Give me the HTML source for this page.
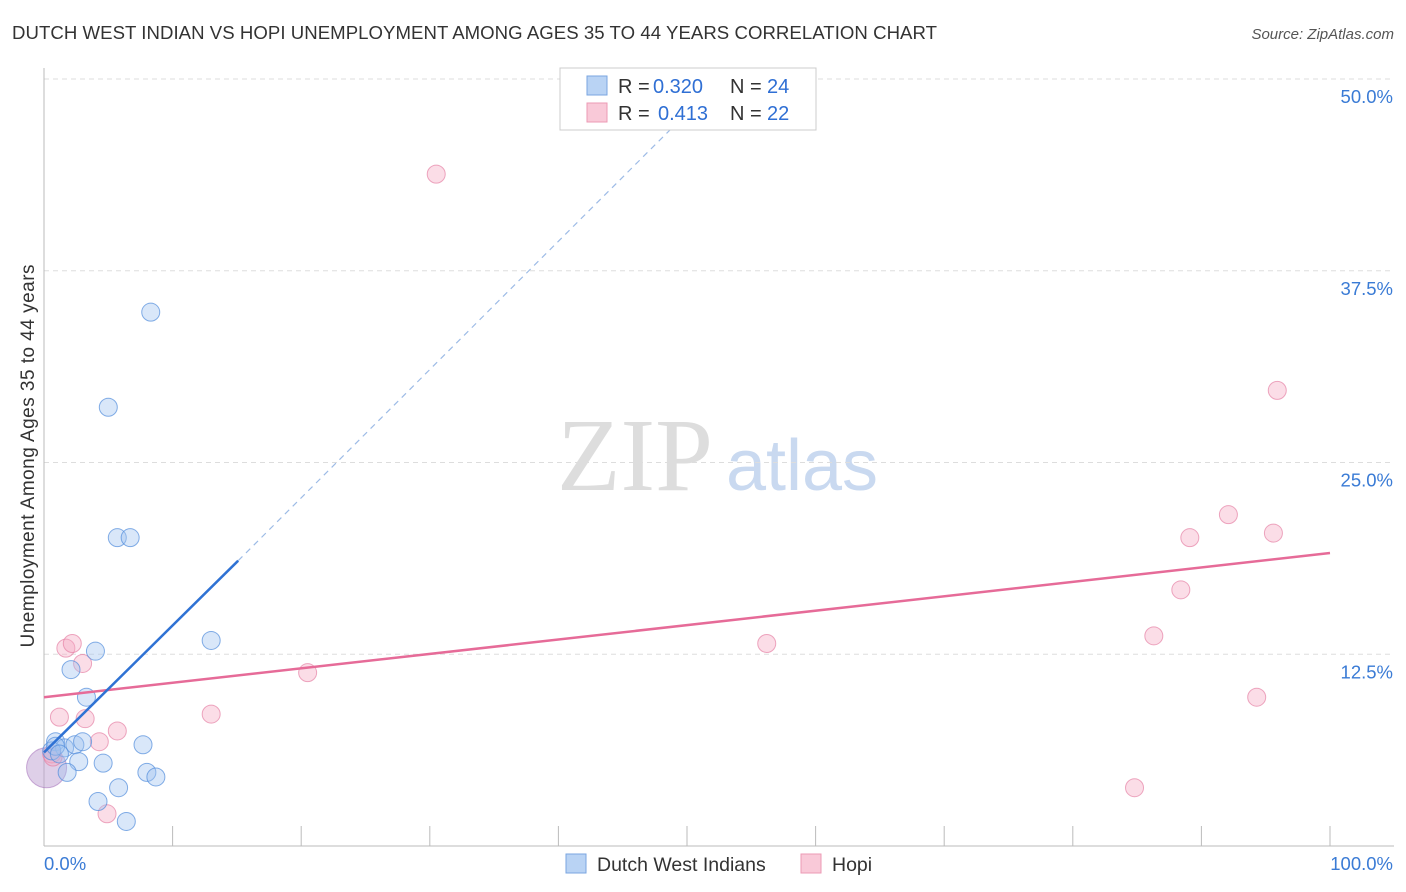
<!DOCTYPE html>
<html><head><meta charset="utf-8"><style>
body{margin:0;background:#fff;font-family:"Liberation Sans",sans-serif;}
svg{display:block}
</style></head><body>
<svg id="chart" width="1406" height="892">
<text x="12" y="39" font-size="18.6" fill="#333" textLength="925">DUTCH WEST INDIAN VS HOPI UNEMPLOYMENT AMONG AGES 35 TO 44 YEARS CORRELATION CHART</text>
<text x="1394" y="39" font-size="15" fill="#555" font-style="italic" text-anchor="end">Source: ZipAtlas.com</text>
<text x="0" y="0" transform="translate(34,456) rotate(-90)" font-size="19" fill="#333" text-anchor="middle" textLength="383">Unemployment Among Ages 35 to 44 years</text>
<g><text x="635" y="490" font-size="104" fill="#ddd" font-family="Liberation Serif,serif" text-anchor="middle">ZIP</text><text x="802" y="490" font-size="72" fill="#c9d9f0" text-anchor="middle">atlas</text></g>
<g id="grid"></g><g id="axes"></g><g id="marks"></g>
<g>
<rect x="560" y="68" width="256" height="62" fill="#fff" stroke="#ccc"/>
<rect x="587" y="76" width="20" height="19" fill="#b9d3f4" stroke="#7aa6e0"/>
<rect x="587" y="103" width="20" height="19" fill="#f9c9d8" stroke="#ec9ab4"/>
<g font-size="20" fill="#333">
<text x="618" y="93">R =</text><text x="653" y="93" fill="#2f6fd4">0.320</text><text x="730" y="93">N =</text><text x="767" y="93" fill="#2f6fd4">24</text>
<text x="618" y="120">R =</text><text x="658" y="120" fill="#2f6fd4">0.413</text><text x="730" y="120">N =</text><text x="767" y="120" fill="#2f6fd4">22</text>
</g>
</g>
<g>
<rect x="566" y="854" width="20" height="19" fill="#b9d3f4" stroke="#7aa6e0"/>
<text x="597" y="871" font-size="19.5" fill="#333">Dutch West Indians</text>
<rect x="801" y="854" width="20" height="19" fill="#f9c9d8" stroke="#ec9ab4"/>
<text x="832" y="871" font-size="19.5" fill="#333">Hopi</text>
</g>
</svg>
<script>
const yTicks=[12.5,25,37.5,50];
const yTickLabels=["12.5%","25.0%","37.5%","50.0%"];
const xTicks=[0,10,20,30,40,50,60,70,80,90,100];
const blueX=[8.3,5.0,5.7,6.7,4.0,13.0,2.1,3.3,0.9,1.6,2.4,3.0,2.7,1.8,4.6,7.7,8.0,8.7,5.8,4.2,6.4,0.6,0.9,1.2];
const blueY=[34.8,28.6,20.1,20.1,12.7,13.4,11.5,9.7,6.8,6.4,6.6,6.8,5.5,4.8,5.4,6.6,4.8,4.5,3.8,2.9,1.6,6.2,6.5,6.0];
const pinkX=[30.5,95.9,92.1,89.1,95.6,88.4,86.3,56.2,94.3,84.8,20.5,13.0,1.7,2.2,3.0,1.2,3.2,5.7,4.3,4.9,0.6,0.7];
const pinkY=[43.8,29.7,21.6,20.1,20.4,16.7,13.7,13.2,9.7,3.8,11.3,8.6,12.9,13.2,11.9,8.4,8.3,7.5,6.8,2.1,6.0,5.8];
const blueLine=[[0,6.1],[15.1,18.6]], blueDash=[[15.1,18.6],[49.3,47.2]];
const pinkLine=[[0,9.7],[100,19.1]];
const L=44,R=1330,T=79,B=846;
const sx=v=>L+(R-L)*v/100, sy=v=>B-(B-T)*v/50;
const NS="http://www.w3.org/2000/svg";
function mk(p,t,a){const e=document.createElementNS(NS,t);for(const k in a)e.setAttribute(k,a[k]);p.appendChild(e);return e;}
const grid=document.getElementById('grid'),axes=document.getElementById('axes'),marks=document.getElementById('marks');
yTicks.forEach((v,i)=>{const g=mk(grid,'line',{x1:L,x2:1394,y1:sy(v),y2:sy(v),stroke:'#ddd','stroke-dasharray':'5,4'});


const t=mk(axes,'text',{x:1393,y:sy(v)+24,'font-size':18.5,fill:'#3a7bd5','text-anchor':'end'});t.textContent=yTickLabels[i];

});
const ax=mk(axes,'line',{x1:L,x2:L,y1:68,y2:B,stroke:'#bbb'});


const bx=mk(axes,'line',{x1:L,x2:1394,y1:B,y2:B,stroke:'#bbb'});


xTicks.forEach(v=>{if(v===0)return;const t=mk(axes,'line',{x1:sx(v),x2:sx(v),y1:B-20,y2:B,stroke:'#bbb'});

});
[["0.0%",44,'start'],["100.0%",1393,'end']].forEach(a=>{const t=mk(axes,'text',{x:a[1],y:870,'font-size':18.5,fill:'#3a7bd5','text-anchor':a[2]});t.textContent=a[0];

});
const big=mk(marks,'circle',{cx:sx(0.2),cy:sy(5.1),r:20,fill:'rgba(190,160,210,0.5)',stroke:'rgba(170,120,190,0.6)'});


pinkX.forEach((x,i)=>{const c=mk(marks,'circle',{cx:sx(x),cy:sy(pinkY[i]),r:9,fill:'rgba(244,170,195,0.4)',stroke:'rgba(230,130,165,0.7)'});

});
blueX.forEach((x,i)=>{const c=mk(marks,'circle',{cx:sx(x),cy:sy(blueY[i]),r:9,fill:'rgba(160,195,240,0.4)',stroke:'rgba(80,140,220,0.7)'});

});
let l=mk(marks,'line',{x1:sx(pinkLine[0][0]),y1:sy(pinkLine[0][1]),x2:sx(pinkLine[1][0]),y2:sy(pinkLine[1][1]),stroke:'#e66b98','stroke-width':2.5});


l=mk(marks,'line',{x1:sx(blueLine[0][0]),y1:sy(blueLine[0][1]),x2:sx(blueLine[1][0]),y2:sy(blueLine[1][1]),stroke:'#2f72d4','stroke-width':2.5});


l=mk(marks,'line',{x1:sx(blueDash[0][0]),y1:sy(blueDash[0][1]),x2:sx(blueDash[1][0]),y2:sy(blueDash[1][1]),stroke:'#9dbbe6','stroke-width':1.2,'stroke-dasharray':'6,5'});


</script>
</body></html>
